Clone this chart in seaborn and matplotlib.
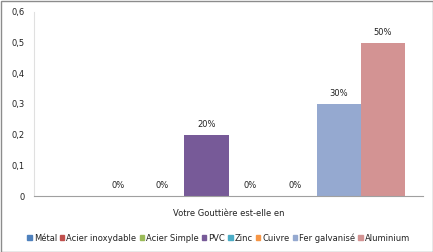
import matplotlib
matplotlib.use("Agg")
import matplotlib.pyplot as plt
import seaborn as sns
import pandas as pd
from matplotlib.patches import Rectangle

materials = ["Métal", "Acier inoxydable", "Acier Simple", "PVC", "Zinc", "Cuivre", "Fer galvanisé", "Aluminium"]
values = [0.0, 0.0, 0.0, 0.2, 0.0, 0.0, 0.3, 0.5]
labels = ["", "0%", "0%", "20%", "0%", "0%", "30%", "50%"]
colors = ["#4F81BD", "#C0504D", "#9BBB59", "#775A98", "#4BACC6", "#F79646", "#95A9D0", "#D39393"]
category = "Votre Gouttière est-elle en"
yticks = [0, 0.1, 0.2, 0.3, 0.4, 0.5, 0.6]
ytick_labels = ["0", "0,1", "0,2", "0,3", "0,4", "0,5", "0,6"]

df = pd.DataFrame({"cat": [category] * len(materials), "mat": materials, "val": values})

sns.set_theme(style="white")
plt.rcParams["font.family"] = ["DejaVu Sans"]

fig = plt.figure(figsize=(4.33, 2.52), dpi=100)
ax = fig.add_axes([34 / 433, 1 - 196 / 252, (423 - 34) / 433, (196 - 12) / 252])

sns.barplot(data=df, x="cat", y="val", hue="mat", hue_order=materials,
            palette=colors, width=353 / 389, ax=ax, legend=False,
            saturation=1, errorbar=None, linewidth=0)

ax.set_xlim(-0.5, 0.5)
ax.set_ylim(0, 0.6)
ax.set_yticks(yticks)
ax.set_yticklabels(ytick_labels, fontsize=6, color="#222222")
ax.set_xticks([])
ax.set_xlabel(category, fontsize=6, color="#222222", labelpad=9)
ax.set_ylabel("")
for s in ["top", "right"]:
    ax.spines[s].set_visible(False)
ax.spines["left"].set_color("#E0E0E0")
ax.spines["left"].set_linewidth(0.8)
ax.spines["bottom"].set_color("#A0A0A0")
ax.spines["bottom"].set_linewidth(0.8)
ax.tick_params(axis="y", length=0, pad=7, left=False)

for cont, lab in zip(ax.containers, labels):
    ax.bar_label(cont, labels=[lab], fontsize=6, color="#222222", padding=4)

handles = [Rectangle((0, 0), 1, 1, color=c) for c in colors]
fig.legend(handles, materials, loc="center", bbox_to_anchor=(0.505, 1 - 238 / 252),
           ncol=8, frameon=False, fontsize=6, handlelength=0.55, handleheight=0.55,
           handletextpad=0.25, columnspacing=0.35, labelcolor="#222222",
           borderpad=0, borderaxespad=0)

fig.add_artist(Rectangle((0.5 / 433, 0.5 / 252), 1 - 1 / 433, 1 - 1 / 252,
                         transform=fig.transFigure, fill=False,
                         edgecolor="#8C8C8C", linewidth=1))

fig.savefig("out.png", dpi=100)
